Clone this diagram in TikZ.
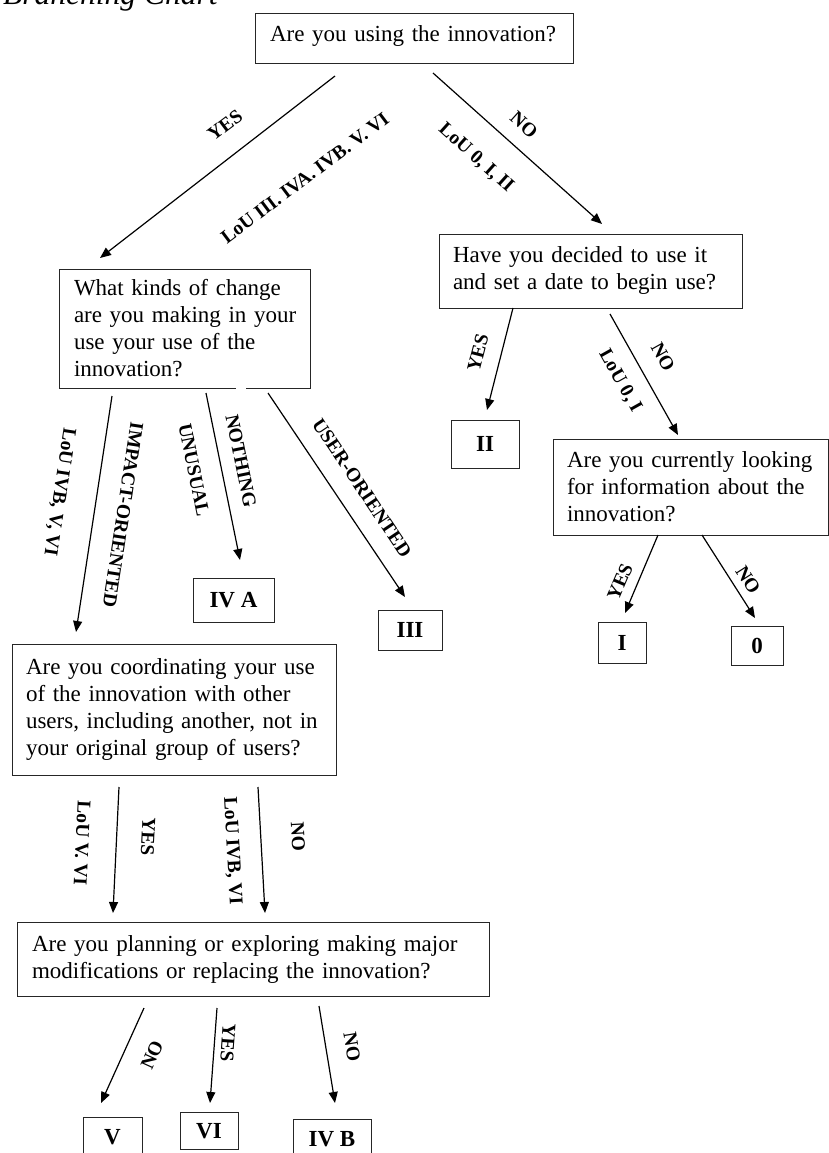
\documentclass[tikz,border=0pt]{standalone}
\usepackage{fontspec}
\setmainfont{Liberation Serif}
\usetikzlibrary{arrows.meta}
\hbadness=10000 \hfuzz=100pt
\tikzset{
  box/.style={draw=black!85, line width=0.8pt, inner ysep=0pt, align=left,
    font=\fontsize{23}{27}\selectfont},
  res/.style={draw=black!85, line width=0.8pt, inner sep=0pt,
    font=\bfseries\fontsize{23}{27}\selectfont},
  arr/.style={line width=1.2pt, -{Triangle[length=11pt,width=9pt]}},
  lbl/.style={font=\bfseries\fontsize{19.5}{22}\selectfont, inner sep=0pt},
}
\newcommand{\bxline}[1]{\mbox{#1}}
\begin{document}
\begin{tikzpicture}[x=1pt,y=-1pt]
\useasboundingbox (0,0) rectangle (829,1153);
\clip (0,0) rectangle (829,1153);
% title
\node[anchor=base west, inner sep=0pt, font=\itshape\fontsize{31.5}{36}\selectfont] (title) at (3,5) {Branching Chart};
% question boxes
\node[box, inner xsep=15pt, text width=288pt, minimum height=50pt, text depth=9pt] (q1) at (414,38) {\bxline{Are you using the innovation?}};
\node[box, inner xsep=14pt, text width=275pt, minimum height=74pt] (q2) at (590.5,271) {\bxline{Have you decided to use it}\\\bxline{and set a date to begin use?}};
\node[box, inner xsep=15pt, text width=221pt, minimum height=119pt] (q3) at (184.5,328.5) {\bxline{What kinds of change}\\\bxline{are you making in your}\\\bxline{use your use of the}\\\bxline{innovation?}};
\node[box, inner xsep=14pt, text width=247pt, minimum height=96pt] (q4) at (690.5,487) {\bxline{Are you currently looking}\\\bxline{for information about the}\\\bxline{innovation?}};
\node[box, inner xsep=14pt, text width=296pt, minimum height=131pt] (q5) at (174,709.5) {\bxline{Are you coordinating your use}\\\bxline{of the innovation with other}\\\bxline{users, including another, not in}\\\bxline{your original group of users?}};
\node[box, inner xsep=15pt, text width=442pt, minimum height=74pt] (q6) at (253,959) {\bxline{Are you planning or exploring making major}\\\bxline{modifications or replacing the innovation?}};
% small gap in the border of q3
\draw[white, line width=2pt] ([xshift=177pt]q3.south west) -- ([xshift=187pt]q3.south west);
% result boxes
\node[res, minimum width=68pt, minimum height=48pt] (rII) at (485,444) {II};
\node[res, minimum width=81pt, minimum height=44pt] (rIVA) at (233.5,600) {IV A};
\node[res, minimum width=64pt, minimum height=40pt] (rIII) at (410,630) {III};
\node[res, minimum width=48pt, minimum height=41pt] (rI) at (622,642.5) {I};
\node[res, minimum width=52pt, minimum height=39pt] (r0) at (757,645.5) {0};
\node[res, minimum width=59pt, minimum height=40pt] (rV) at (112.5,1137) {V};
\node[res, minimum width=58pt, minimum height=37pt] (rVI) at (209,1131) {VI};
\node[res, minimum width=78pt, minimum height=40pt] (rIVB) at (332,1139) {IV B};
% connector endpoints
\coordinate (a1s) at (335,76);   \coordinate (a1e) at (100,258);
\coordinate (a2s) at (433,73);   \coordinate (a2e) at (602,224);
\coordinate (a3s) at (112,396);  \coordinate (a3e) at (76,632);
\coordinate (a4s) at (206,393);  \coordinate (a4e) at (240,560);
\coordinate (a5s) at (268,393);  \coordinate (a5e) at (405,597);
\coordinate (a6s) at (513,308);  \coordinate (a6e) at (487,410);
\coordinate (a7s) at (610,314);  \coordinate (a7e) at (678,435);
\coordinate (a8s) at (658,535);  \coordinate (a8e) at (625,613);
\coordinate (a9s) at (702,535);  \coordinate (a9e) at (755,618);
\coordinate (a10s) at (119,787); \coordinate (a10e) at (113,913);
\coordinate (a11s) at (258,787); \coordinate (a11e) at (265,913);
\coordinate (a12s) at (144,1008);\coordinate (a12e) at (101,1103);
\coordinate (a13s) at (217,1008);\coordinate (a13e) at (210,1103);
\coordinate (a14s) at (319,1006);\coordinate (a14e) at (335,1103);
% connectors
\draw[arr] (a1s) -- (a1e);
\draw[arr] (a2s) -- (a2e);
\draw[arr] (a3s) -- (a3e);
\draw[arr] (a4s) -- (a4e);
\draw[arr] (a5s) -- (a5e);
\draw[arr] (a6s) -- (a6e);
\draw[arr] (a7s) -- (a7e);
\draw[arr] (a8s) -- (a8e);
\draw[arr] (a9s) -- (a9e);
\draw[arr] (a10s) -- (a10e);
\draw[arr] (a11s) -- (a11e);
\draw[arr] (a12s) -- (a12e);
\draw[arr] (a13s) -- (a13e);
\draw[arr] (a14s) -- (a14e);
% labels
\node[lbl, rotate=37] (l1a) at (225,125) {YES};
\node[lbl, rotate=37] (l1b) at (305,178) {LoU III. IVA. IVB. V. VI};
\node[lbl, rotate=-42] (l2a) at (524,125) {NO};
\node[lbl, rotate=-42] (l2b) at (476,158) {LoU 0, I, II};
\node[lbl, rotate=-98.7] (l3a) at (59,492) {LoU IVB, V, VI};
\node[lbl, rotate=-98.7] (l3b) at (123,515) {IMPACT-ORIENTED};
\node[lbl, rotate=-78.5] (l4a) at (194,470) {UNUSUAL};
\node[lbl, rotate=-78.5] (l4b) at (241,461) {NOTHING};
\node[lbl, rotate=-56.1] (l5) at (362,488) {USER-ORIENTED};
\node[lbl, rotate=75.7] (l6) at (478,353) {YES};
\node[lbl, rotate=-60.7] (l7a) at (663,357) {NO};
\node[lbl, rotate=-60.7] (l7b) at (620,381) {LoU 0, I};
\node[lbl, rotate=67] (l8) at (620,582) {YES};
\node[lbl, rotate=-57.4] (l9) at (748,580) {NO};
\node[lbl, rotate=-92.7] (l10a) at (82,843) {LoU V. VI};
\node[lbl, rotate=-92.7] (l10b) at (148,837) {YES};
\node[lbl, rotate=-86.8] (l11a) at (232,851) {LoU IVB, VI};
\node[lbl, rotate=-86.8] (l11b) at (298,837) {NO};
\node[lbl, rotate=65.6] (l12) at (152,1055) {NO};
\node[lbl, rotate=-94] (l13) at (228,1043) {YES};
\node[lbl, rotate=-80.6] (l14) at (352,1047) {NO};
\end{tikzpicture}
\end{document}
